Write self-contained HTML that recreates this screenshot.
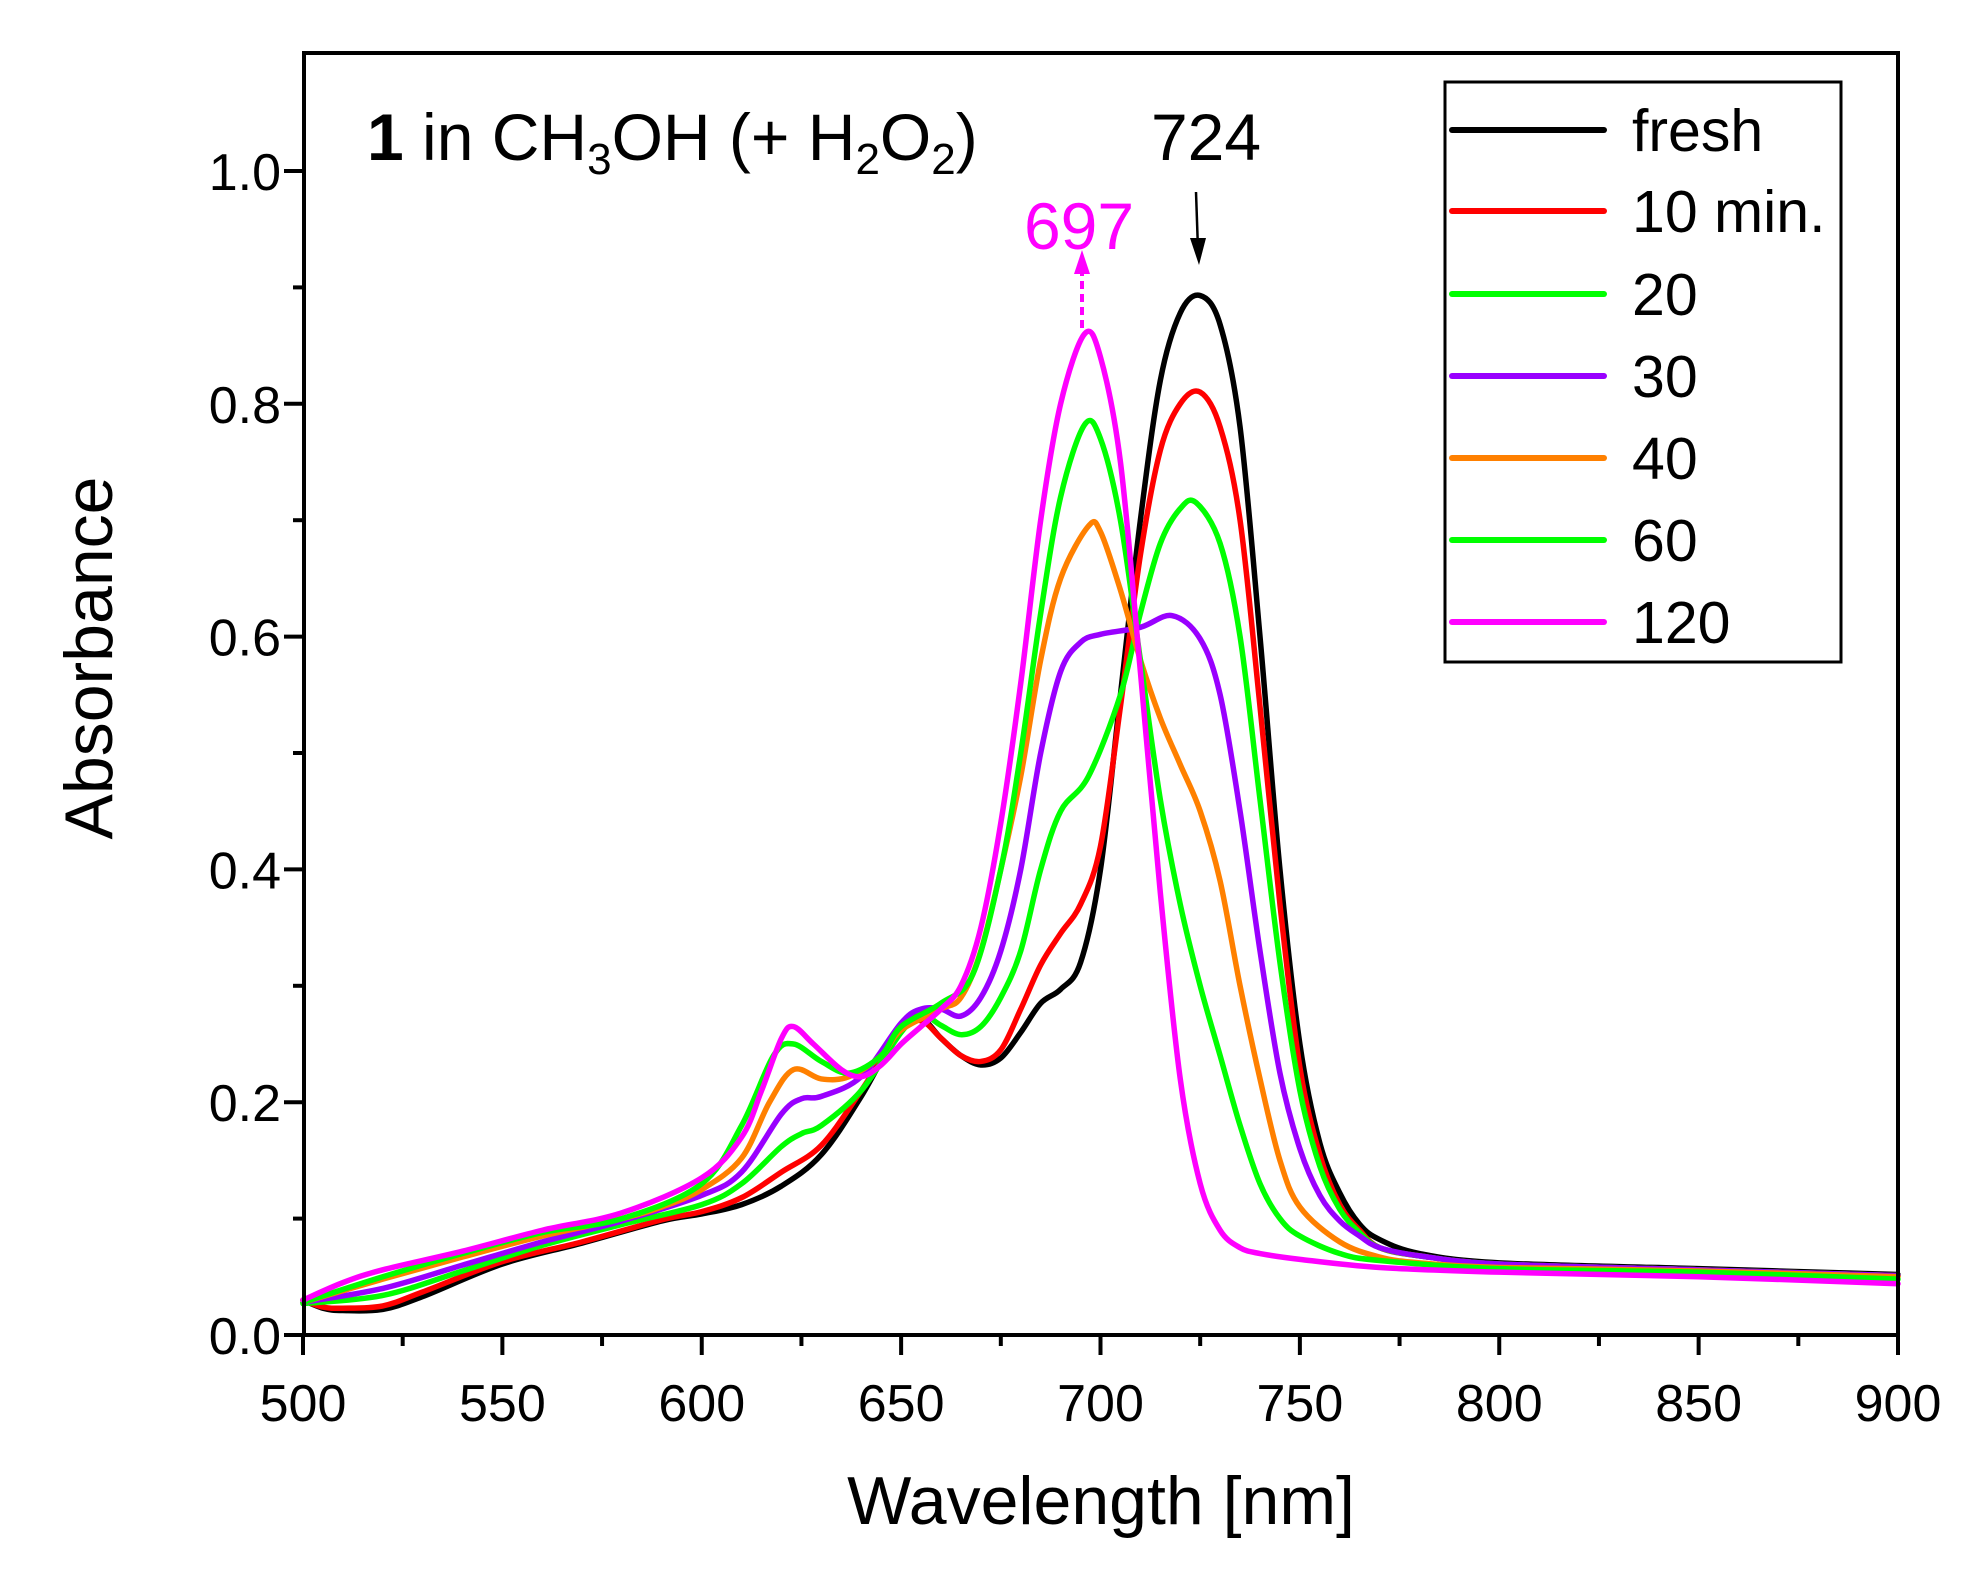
<!DOCTYPE html>
<html><head><meta charset="utf-8"><style>
html,body{margin:0;padding:0;background:#fff;}
svg text{font-family:"Liberation Sans",Arial,sans-serif;}
</style></head><body>
<svg id="s" width="1984" height="1570" viewBox="0 0 1984 1570" xmlns="http://www.w3.org/2000/svg">
<rect width="1984" height="1570" fill="#fff"/>
<g id="curves" fill="none" stroke-width="5.5" stroke-linejoin="round" stroke-linecap="round"></g>
<rect x="304" y="53" width="1594" height="1282" fill="none" stroke="#000" stroke-width="4"/>
<g id="ticks" stroke="#000" stroke-width="4"></g>
<g id="labels" font-size="52" fill="#000"></g>
<text x="1101" y="1524" font-size="68" text-anchor="middle">Wavelength [nm]</text>
<text transform="translate(112,658) rotate(-90)" font-size="68" text-anchor="middle">Absorbance</text>
<text x="367" y="160" font-size="66"><tspan font-weight="bold">1</tspan> in CH<tspan font-size="44" dy="14">3</tspan><tspan dy="-14">OH (+ H</tspan><tspan font-size="44" dy="14">2</tspan><tspan dy="-14">O</tspan><tspan font-size="44" dy="14">2</tspan><tspan dy="-14">)</tspan></text>
<text x="1206" y="160" font-size="66" text-anchor="middle">724</text>
<text x="1079" y="249" font-size="66" text-anchor="middle" fill="#ff00ff">697</text>
<line x1="1196" y1="192" x2="1198" y2="250" stroke="#000" stroke-width="2.5"/>
<polygon points="1190,238 1206,238 1199,265" fill="#000"/>
<line x1="1082" y1="328" x2="1082" y2="268" stroke="#ff00ff" stroke-width="4" stroke-dasharray="8,5"/>
<polygon points="1074,274 1090,274 1082,250" fill="#ff00ff"/>
<rect x="1445" y="82" width="396" height="580" fill="#fff" stroke="#000" stroke-width="3"/>
<g id="legend" font-size="59"></g>
</svg>
<script>
const X=w=>303+(w-500)*1595/400, Y=a=>1335-a*1164;
const tail=[[770,0.075],[780,0.068],[800,0.061],[850,0.056],[900,0.051]];
const S=[
["#000000","fresh",[[500,0.03],[505,0.023],[510,0.021],[520,0.022],[530,0.033],[550,0.061],[570,0.079],[590,0.098],[600,0.104],[610,0.112],[620,0.128],[630,0.155],[640,0.205],[650,0.265],[655,0.272],[660,0.255],[665,0.24],[670,0.232],[675,0.238],[680,0.26],[685,0.285],[690,0.297],[695,0.32],[700,0.4],[705,0.55],[710,0.7],[715,0.82],[720,0.878],[725,0.893],[730,0.868],[735,0.78],[740,0.6],[745,0.4],[750,0.25],[755,0.165],[760,0.122],[765,0.095],[770,0.082],[780,0.07],[800,0.062],[850,0.057],[900,0.052]]],
["#ff0000","10 min.",[[500,0.03],[505,0.024],[510,0.023],[520,0.025],[530,0.037],[550,0.063],[570,0.08],[590,0.099],[600,0.106],[610,0.118],[620,0.14],[630,0.163],[640,0.21],[650,0.262],[655,0.27],[660,0.255],[665,0.24],[670,0.235],[675,0.245],[680,0.28],[685,0.318],[690,0.345],[695,0.37],[700,0.42],[705,0.54],[710,0.67],[715,0.76],[720,0.8],[725,0.81],[730,0.78],[735,0.7],[740,0.54],[745,0.37],[750,0.23],[755,0.155],[760,0.112],[765,0.09],...tail]],
["#00ff00","20",[[500,0.027],[520,0.034],[540,0.055],[560,0.077],[580,0.095],[600,0.112],[610,0.13],[620,0.162],[625,0.173],[630,0.18],[640,0.21],[650,0.26],[655,0.275],[660,0.266],[665,0.258],[670,0.265],[675,0.29],[680,0.33],[685,0.4],[690,0.45],[697,0.48],[705,0.55],[710,0.62],[715,0.68],[720,0.71],[724,0.715],[730,0.68],[735,0.6],[740,0.46],[745,0.32],[750,0.21],[755,0.145],[760,0.108],[765,0.088],...tail]],
["#9900ff","30",[[500,0.028],[520,0.04],[540,0.06],[560,0.08],[580,0.098],[600,0.12],[610,0.14],[620,0.19],[625,0.203],[630,0.205],[640,0.222],[650,0.268],[655,0.28],[660,0.28],[665,0.274],[670,0.29],[675,0.33],[680,0.4],[685,0.5],[690,0.57],[695,0.595],[700,0.602],[710,0.608],[718,0.618],[725,0.598],[730,0.55],[735,0.45],[740,0.33],[745,0.225],[750,0.16],[755,0.12],[760,0.098],[765,0.085],...tail]],
["#ff8000","40",[[500,0.028],[520,0.048],[540,0.067],[560,0.085],[580,0.1],[590,0.11],[600,0.125],[610,0.152],[617,0.2],[623,0.228],[630,0.22],[637,0.222],[645,0.24],[650,0.262],[660,0.28],[665,0.29],[670,0.33],[675,0.4],[680,0.48],[685,0.58],[690,0.65],[697,0.695],[700,0.69],[705,0.64],[710,0.58],[715,0.53],[720,0.49],[725,0.45],[730,0.39],[735,0.3],[740,0.22],[745,0.15],[750,0.11],[760,0.08],[770,0.067],[780,0.062],[800,0.058],[850,0.055],[900,0.05]]],
["#00ff00","60",[[500,0.028],[520,0.05],[540,0.07],[560,0.088],[580,0.1],[600,0.13],[610,0.18],[618,0.24],[623,0.25],[630,0.235],[637,0.225],[645,0.24],[650,0.265],[660,0.285],[668,0.31],[675,0.4],[680,0.5],[685,0.62],[690,0.72],[696,0.782],[700,0.77],[705,0.7],[710,0.58],[715,0.46],[720,0.37],[725,0.3],[730,0.24],[735,0.18],[740,0.13],[745,0.1],[750,0.085],[760,0.07],[770,0.064],[800,0.057],[850,0.054],[900,0.048]]],
["#ff00ff","120",[[500,0.03],[510,0.045],[520,0.056],[540,0.072],[560,0.09],[580,0.105],[600,0.135],[610,0.17],[615,0.21],[620,0.255],[623,0.265],[628,0.25],[635,0.228],[640,0.222],[645,0.232],[650,0.25],[655,0.265],[660,0.28],[665,0.3],[670,0.35],[675,0.44],[680,0.56],[685,0.7],[690,0.8],[696,0.86],[700,0.84],[705,0.75],[710,0.57],[715,0.38],[720,0.22],[725,0.13],[730,0.09],[735,0.075],[740,0.07],[750,0.065],[770,0.058],[800,0.054],[850,0.05],[900,0.044]]]
];
const NS="http://www.w3.org/2000/svg";
function path(pts){const p=pts.map(([w,a])=>[X(w),Y(a)]);let d="M"+p[0][0]+","+p[0][1];
for(let i=0;i<p.length-1;i++){const p0=p[i-1]||p[i],p1=p[i],p2=p[i+1],p3=p[i+2]||p2;
d+=` C${p1[0]+(p2[0]-p0[0])/6},${p1[1]+(p2[1]-p0[1])/6} ${p2[0]-(p3[0]-p1[0])/6},${p2[1]-(p3[1]-p1[1])/6} ${p2[0]},${p2[1]}`;}return d;}
const g=document.getElementById("curves");
S.forEach(s=>{const e=document.createElementNS(NS,"path");e.setAttribute("d",path(s[2]));e.setAttribute("stroke",s[0]);g.appendChild(e);});
const t=document.getElementById("ticks"),L=document.getElementById("labels");
function ln(x1,y1,x2,y2){const e=document.createElementNS(NS,"line");e.setAttribute("x1",x1);e.setAttribute("y1",y1);e.setAttribute("x2",x2);e.setAttribute("y2",y2);t.appendChild(e);}
function tx(x,y,s,anc){const e=document.createElementNS(NS,"text");e.setAttribute("x",x);e.setAttribute("y",y);e.setAttribute("text-anchor",anc);e.textContent=s;L.appendChild(e);}
for(let w=500;w<=900;w+=25){const x=X(w),maj=w%50==0;ln(x,1335,x,1335+(maj?20:11));if(maj)tx(x,1421,w,"middle");}
for(let i=0;i<=10;i++){const a=i/10,y=Y(a),maj=i%2==0;ln(304,y,304-(maj?20:11),y);if(maj)tx(281,y+19,a.toFixed(1),"end");}
const lg=document.getElementById("legend"),ry=[130,211,294,376,458,540,622];
S.forEach((s,i)=>{const e=document.createElementNS(NS,"line");e.setAttribute("x1",1452);e.setAttribute("x2",1604);e.setAttribute("y1",ry[i]);e.setAttribute("y2",ry[i]);e.setAttribute("stroke",s[0]);e.setAttribute("stroke-width",6);e.setAttribute("stroke-linecap","round");lg.appendChild(e);
const q=document.createElementNS(NS,"text");q.setAttribute("x",1632);q.setAttribute("y",ry[i]+21);q.textContent=s[1];lg.appendChild(q);});
</script>
</body></html>
